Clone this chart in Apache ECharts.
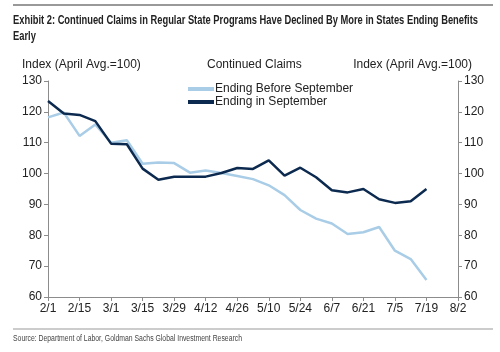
<!DOCTYPE html>
<html>
<head>
<meta charset="utf-8">
<script src="https://cdn.jsdelivr.net/npm/echarts@6/dist/echarts.min.js"></script>
<style>
  html, body { margin: 0; padding: 0; background: #fff; }
  #chart { width: 500px; height: 352px; }
</style>
</head>
<body>
<div id="chart"></div>
<script>
// weekly dates, labels shown every two weeks
var weeks = ['2/1', '2/8', '2/15', '2/22', '3/1', '3/8', '3/15', '3/22', '3/29', '4/5', '4/12', '4/19', '4/26',
  '5/3', '5/10', '5/17', '5/24', '5/31', '6/7', '6/14', '6/21', '6/28', '7/5', '7/12', '7/19', '7/26', '8/2']
var endingBefore = [118.2, 119.8, 112.2, 115.9, 110, 110.8, 103.2, 103.6, 103.4, 100.3, 101, 100.2, 99.2,
  98.2, 96.2, 93, 88.2, 85.4, 83.8, 80.4, 81, 82.7, 75, 72.3, 65.5, null, null]
var endingIn = [123.5, 119.5, 119, 117, 109.7, 109.5, 101.6, 98, 99, 99, 99, 100.2, 101.8,
  101.5, 104.3, 99.3, 101.9, 98.8, 94.6, 93.9, 95, 91.7, 90.5, 91, 95, null, null]
var yTicks = [60, 70, 80, 90, 100, 110, 120, 130]

var FONT = 'Liberation Sans, Arial, sans-serif'
var titleLine1 = 'Exhibit 2: Continued Claims in Regular State Programs Have Declined By More in States Ending Benefits'
var sourceText = 'Source: Department of Labor, Goldman Sachs Global Investment Research'

// 用 canvas 量一下字宽，把粗体标题压成窄体的样子
function squeeze (text, font, target) {
  var ctx = document.createElement('canvas').getContext('2d')
  ctx.font = font
  return target / ctx.measureText(text).width
}
var titleFont = 'bold 13px "Liberation Sans", Arial, sans-serif'
var titleScale = squeeze(titleLine1, titleFont, 465)
var srcFont = '8.5px "Liberation Sans", Arial, sans-serif'
var srcScale = squeeze(sourceText, srcFont, 229)

var chart = echarts.init(document.getElementById('chart'))

// 轴的公共样式
function valueAxis (pos) {
  return {
    type: 'value',
    position: pos,
    min: yTicks[0],
    max: yTicks[yTicks.length - 1],
    interval: 10,
    axisLine: { show: true, lineStyle: { color: '#8c8c8c', width: 1 } },
    axisTick: { show: true, length: 4, lineStyle: { color: '#8c8c8c' } },
    axisLabel: { color: '#222', fontSize: 12, fontFamily: FONT, margin: 6 },
    splitLine: { show: false }
  }
}

var option = {
  animation: false,
  backgroundColor: '#fff',
  grid: { left: 48, right: 42, top: 81, bottom: 55 },
  legend: {
    orient: 'vertical',
    left: 183,
    top: 78,
    itemGap: 1,
    itemWidth: 26,
    itemHeight: 4,
    icon: 'rect',
    textStyle: { color: '#222', fontSize: 12, fontFamily: FONT, padding: [0, 0, 0, -4] },
    data: ['Ending Before September', 'Ending in September']
  },
  graphic: [
    { type: 'line', shape: { x1: 13, y1: 5, x2: 493, y2: 5 }, style: { stroke: '#999', lineWidth: 2 } },
    { type: 'text', x: 13, y: 12, scaleX: titleScale, style: { text: titleLine1 + '\nEarly', fill: '#222', font: titleFont, lineHeight: 16 } },
    { type: 'text', left: 22, top: 59, style: { text: 'Index (April Avg.=100)', fill: '#222', font: '12px ' + FONT } },
    { type: 'text', left: 207, top: 59, style: { text: 'Continued Claims', fill: '#222', font: '12px ' + FONT } },
    { type: 'text', right: 28, top: 59, style: { text: 'Index (April Avg.=100)', fill: '#222', font: '12px ' + FONT } },
    { type: 'line', shape: { x1: 13, y1: 329, x2: 493, y2: 329 }, style: { stroke: '#999', lineWidth: 1 } },
    { type: 'text', x: 13, y: 334, scaleX: srcScale, style: { text: sourceText, fill: '#444', font: srcFont } }
  ],
  xAxis: {
    type: 'category',
    boundaryGap: false,
    data: weeks,
    axisLine: { lineStyle: { color: '#8c8c8c' } },
    axisTick: { show: true, interval: 1, length: 4, lineStyle: { color: '#8c8c8c' } },
    axisLabel: { interval: 1, color: '#222', fontSize: 12, fontFamily: FONT, margin: 6 }
  },
  yAxis: [valueAxis('left'), valueAxis('right')],
  series: [
    {
      name: 'Ending Before September',
      type: 'line',
      data: endingBefore,
      symbol: 'none',
      color: '#a9cde6',
      lineStyle: { width: 2.5, color: '#a9cde6' },
      z: 2
    },
    {
      name: 'Ending in September',
      type: 'line',
      data: endingIn,
      symbol: 'none',
      color: '#0c2a4f',
      lineStyle: { width: 2.5, color: '#0c2a4f' },
      z: 3
    }
  ]
}

chart.setOption(option)
</script>
</body>
</html>
